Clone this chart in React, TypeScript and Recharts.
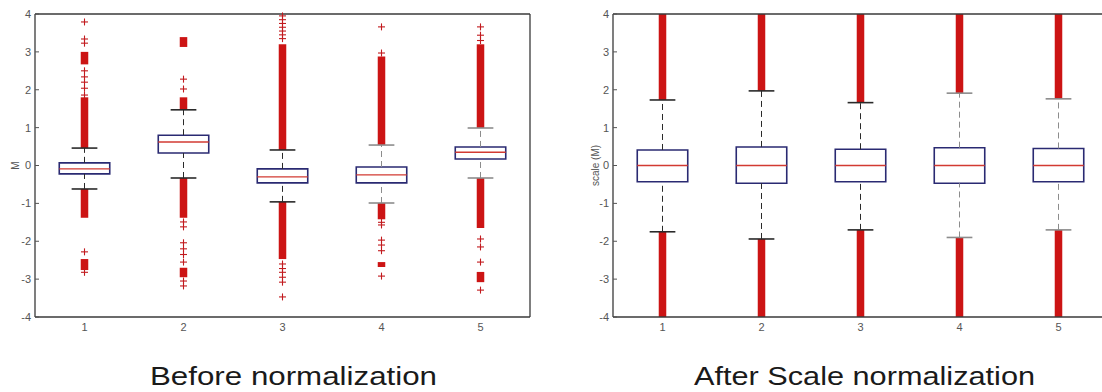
import React from "react";
import {
  ComposedChart,
  XAxis,
  YAxis,
  Scatter,
  ReferenceArea,
  ReferenceLine,
} from "recharts";

const groups = [1, 2, 3, 4, 5];
const yTicks = [-4, -3, -2, -1, 0, 1, 2, 3, 4];

// raw M values
const beforeQ1 = [-0.22, 0.33, -0.46, -0.46, 0.17];
const beforeMedian = [-0.09, 0.62, -0.3, -0.25, 0.35];
const beforeQ3 = [0.07, 0.8, -0.09, -0.04, 0.49];
const beforeLow = [-0.62, -0.33, -0.96, -0.99, -0.33];
const beforeHigh = [0.46, 1.47, 0.41, 0.54, 0.99];
// runs of outliers packed so tightly they read as a solid bar
const beforeDense = [
  [[0.46, 1.8], [2.67, 3.0], [-1.38, -0.62], [-2.76, -2.47]],
  [[1.47, 1.8], [3.13, 3.39], [-1.38, -0.33], [-2.95, -2.7]],
  [[0.41, 3.2], [-2.47, -0.96]],
  [[0.54, 2.88], [-1.42, -0.99], [-2.68, -2.55]],
  [[0.99, 3.2], [-1.65, -0.33], [-3.08, -2.81]],
];
const beforeCrosses = [
  [1.86, 2.04, 2.2, 2.34, 2.5, 3.23, 3.34, 3.79, -2.28, -2.82],
  [2.02, 2.28, -1.49, -1.62, -2.04, -2.2, -2.35, -2.55, -3.05, -3.18],
  [3.35, 3.45, 3.55, 3.65, 3.75, 3.85, 3.95, -2.6, -2.72, -2.82, -2.95, -3.08, -3.47],
  [2.97, 3.66, -1.5, -1.57, -1.97, -2.1, -2.25, -2.92],
  [3.3, 3.44, 3.66, -1.94, -2.15, -2.55, -3.29],
];

// scale-normalized M values
const afterQ1 = [-0.43, -0.47, -0.43, -0.47, -0.43];
const afterMedian = [0, 0, 0, 0, 0];
const afterQ3 = [0.41, 0.49, 0.43, 0.47, 0.45];
const afterLow = [-1.75, -1.94, -1.7, -1.9, -1.7];
const afterHigh = [1.73, 1.97, 1.66, 1.91, 1.76];
const afterDense = [
  [[1.73, 4], [-4, -1.75]],
  [[1.97, 4], [-4, -1.94]],
  [[1.66, 4], [-4, -1.7]],
  [[1.91, 4], [-4, -1.9]],
  [[1.76, 4], [-4, -1.7]],
];
const afterCrosses: number[][] = [[], [], [], [], []];

type Panel = {
  q1: number[];
  median: number[];
  q3: number[];
  low: number[];
  high: number[];
  dense: number[][][];
  crosses: number[][];
};

const before: Panel = {
  q1: beforeQ1,
  median: beforeMedian,
  q3: beforeQ3,
  low: beforeLow,
  high: beforeHigh,
  dense: beforeDense,
  crosses: beforeCrosses,
};

const after: Panel = {
  q1: afterQ1,
  median: afterMedian,
  q3: afterQ3,
  low: afterLow,
  high: afterHigh,
  dense: afterDense,
  crosses: afterCrosses,
};

const BOX_HALF = 0.255;
const CAP_HALF = 0.13;
const BAND_HALF = 0.038;
const RED = "#cc1414";
const MEDIAN = "#d23a32";
const whiskerColors = ["#2a2a2a", "#2a2a2a", "#2a2a2a", "#8c8c8c", "#8c8c8c"];
const tickFont = { fontFamily: "'Liberation Sans Narrow', 'Liberation Sans', sans-serif", fontSize: 11, fill: "#555" };

const Cross = (props: any) => {
  const { cx, cy } = props;
  if (cx == null || cy == null) return <g />;
  return (
    <g stroke="#c21a1e" strokeWidth={1.1}>
      <line x1={cx - 3.5} x2={cx + 3.5} y1={cy} y2={cy} />
      <line x1={cx} x2={cx} y1={cy - 3.5} y2={cy + 3.5} />
    </g>
  );
};

const BoxPanel = ({ panel, yLabel, labelOffset }: { panel: Panel; yLabel: string; labelOffset: number }) => {
  const points = panel.crosses.flatMap((vals, i) => vals.map((v) => ({ x: groups[i], y: v })));
  // one row per group so the axes always have data to lay out against
  const rows = groups.map((g, i) => ({ x: g, y: panel.median[i] }));
  return (
    <ComposedChart width={545} height={342} data={rows} margin={{ top: 13, right: 14, bottom: 0, left: 0 }}>
      <XAxis
        xAxisId="top"
        orientation="top"
        dataKey="x"
        type="number"
        domain={[0.5, 5.5]}
        height={1}
        tick={false}
        tickLine={false}
        axisLine={{ stroke: "#3a3a3a", strokeWidth: 1.3 }}
      />
      <YAxis
        yAxisId="right"
        orientation="right"
        dataKey="y"
        type="number"
        domain={[-4, 4]}
        ticks={yTicks}
        width={1}
        tick={false}
        tickSize={-5}
        tickLine={{ stroke: "#555" }}
        axisLine={{ stroke: "#3a3a3a", strokeWidth: 1.3 }}
      />
      <XAxis
        dataKey="x"
        type="number"
        domain={[0.5, 5.5]}
        ticks={groups}
        height={25}
        tickLine={false}
        tickSize={4}
        tickMargin={2}
        tick={tickFont}
        axisLine={{ stroke: "#3a3a3a", strokeWidth: 1.3 }}
      />
      <YAxis
        dataKey="y"
        type="number"
        domain={[-4, 4]}
        ticks={yTicks}
        width={35}
        tickSize={-4}
        tickMargin={8}
        tick={tickFont}
        tickLine={{ stroke: "#555" }}
        axisLine={{ stroke: "#3a3a3a", strokeWidth: 1.3 }}
        label={{
          value: yLabel,
          angle: -90,
          position: "insideLeft",
          offset: labelOffset,
          style: { textAnchor: "middle", fontFamily: "'Liberation Sans Narrow', sans-serif", fontSize: 10, fill: "#555" },
        }}
      />
      {groups.map((g, i) => (
        <React.Fragment key={g}>
          <ReferenceLine
            segment={[{ x: g, y: panel.q3[i] }, { x: g, y: panel.high[i] }]}
            stroke={whiskerColors[i]}
            strokeDasharray="6 4"
          />
          <ReferenceLine
            segment={[{ x: g, y: panel.low[i] }, { x: g, y: panel.q1[i] }]}
            stroke={whiskerColors[i]}
            strokeDasharray="6 4"
          />
          {panel.dense[i].map(([a, b], k) => (
            <ReferenceArea
              key={k}
              x1={g - BAND_HALF}
              x2={g + BAND_HALF}
              y1={a}
              y2={b}
              fill={RED}
              fillOpacity={1}
              stroke="none"
            />
          ))}
          <ReferenceLine
            segment={[{ x: g - CAP_HALF, y: panel.high[i] }, { x: g + CAP_HALF, y: panel.high[i] }]}
            stroke={whiskerColors[i]}
            strokeWidth={1.6}
          />
          <ReferenceLine
            segment={[{ x: g - CAP_HALF, y: panel.low[i] }, { x: g + CAP_HALF, y: panel.low[i] }]}
            stroke={whiskerColors[i]}
            strokeWidth={1.6}
          />
          <ReferenceArea
            x1={g - BOX_HALF}
            x2={g + BOX_HALF}
            y1={panel.q1[i]}
            y2={panel.q3[i]}
            fill="#ffffff"
            fillOpacity={1}
            stroke="#2a2a72"
            strokeWidth={1.6}
          />
          <ReferenceLine
            segment={[{ x: g - BOX_HALF, y: panel.median[i] }, { x: g + BOX_HALF, y: panel.median[i] }]}
            stroke={MEDIAN}
            strokeWidth={1.3}
          />
        </React.Fragment>
      ))}
      {points.length > 0 && (
        <Scatter data={points} dataKey="y" shape={(p: any) => <Cross {...p} />} isAnimationActive={false} />
      )}
    </ComposedChart>
  );
};

const titleFont = { fontFamily: "'Liberation Sans', Arial, sans-serif", fontSize: 25, fill: "#1a1a1a" };

export default function App() {
  return (
    <div
      style={{
        position: "absolute",
        left: 0,
        top: 0,
        width: 1102,
        height: 392,
        overflow: "hidden",
        background: "#fff",
      }}
    >
      <div style={{ position: "absolute", left: 0, top: 0 }}>
        <BoxPanel panel={before} yLabel="M" labelOffset={15} />
      </div>
      <div style={{ position: "absolute", left: 578, top: 0 }}>
        <BoxPanel panel={after} yLabel="scale (M)" labelOffset={17} />
      </div>
      <svg width={1102} height={392} style={{ position: "absolute", left: 0, top: 0, pointerEvents: "none" }}>
        <text x={150} y={385} textLength={287} lengthAdjust="spacingAndGlyphs" {...titleFont}>
          Before normalization
        </text>
        <text x={694} y={385} textLength={341} lengthAdjust="spacingAndGlyphs" {...titleFont}>
          After Scale normalization
        </text>
      </svg>
    </div>
  );
}
